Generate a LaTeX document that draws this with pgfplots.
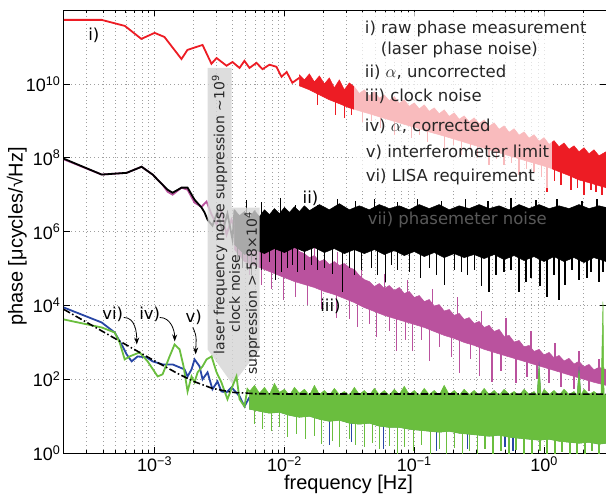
\documentclass[border=0pt]{standalone}
\usepackage{pgfplots}
\pgfplotsset{compat=1.18}
\usepackage{fontspec}
\setmainfont{Liberation Sans}
\newfontfamily\annot{DejaVu Sans}
\usetikzlibrary{arrows.meta}

\definecolor{cred}{RGB}{237,28,36}
\definecolor{cmag}{RGB}{186,82,158}
\definecolor{cblue}{RGB}{40,70,165}
\definecolor{cgreen}{RGB}{106,190,62}
\definecolor{cgray}{RGB}{212,212,212}

\begin{document}
\begin{tikzpicture}
\begin{axis}[
  scale only axis, width=543pt, height=444pt,
  xmode=log, ymode=log,
  xmin=2e-4, xmax=3, ymin=1, ymax=1e12,
  xtick={1e-3,1e-2,1e-1,1},
  xticklabels={10\textsuperscript{−3},10\textsuperscript{−2},10\textsuperscript{−1},10\textsuperscript{0}},
  minor xtick={3e-4,4e-4,5e-4,6e-4,7e-4,8e-4,9e-4,2e-3,3e-3,4e-3,5e-3,6e-3,7e-3,8e-3,9e-3,
    2e-2,3e-2,4e-2,5e-2,6e-2,7e-2,8e-2,9e-2,2e-1,3e-1,4e-1,5e-1,6e-1,7e-1,8e-1,9e-1,2},
  ytick={1,1e2,1e4,1e6,1e8,1e10},
  yticklabels={10\textsuperscript{0},10\textsuperscript{2},10\textsuperscript{4},10\textsuperscript{6},10\textsuperscript{8},10\textsuperscript{10}},
  yminorticks=false,
  xmajorgrids, xminorgrids, ymajorgrids,
  major grid style={gray!75, line width=0.6pt, dash pattern=on 0.8pt off 3pt},
  minor grid style={gray!75, line width=0.6pt, dash pattern=on 0.8pt off 3pt},
  tick align=inside, major tick length=6pt, minor tick length=3.5pt,
  tick style={black, line width=0.7pt},
  axis line style={line width=0.9pt},
  tick label style={font=\fontsize{18}{20}\selectfont},
  label style={font=\fontsize{20}{22}\selectfont},
  xlabel={frequency [Hz]},
  ylabel={phase [μcycles/√Hz]},
  xlabel style={at={(axis description cs:0.525,0)}, yshift=-31pt, anchor=center},
  ylabel style={at={(axis description cs:-0.087,0.489)}, anchor=center},
  unbounded coords=jump,
]

% iii) clock noise
\addplot[cmag, line width=1.8pt] coordinates {
(2e-4,9.0e7) (3.91e-4,3.5e7) (6.09e-4,3.9e7) (7.94e-4,5.7e7) (9.65e-4,3.5e7)
(1.152e-3,1.86e7) (1.259e-3,1.2e7) (1.375e-3,1.0e7) (1.613e-3,1.55e7) (1.794e-3,1.36e7)
(2.031e-3,6.1e6) (2.298e-3,4.7e6) (2.512e-3,6.5e6) (2.745e-3,2.9e6) (3.0e-3,1.55e6)
(3.27e-3,3.5e6) (3.58e-3,8.3e5) (3.91e-3,2.1e6) (4.125e-3,1.28e6)
};
\addplot[cmag, fill=cmag, line width=0.5pt] coordinates {
(4.125e-3,1.28e6) (4.506e-3,1.0e6) (4.924e-3,1.55e6) (5.380e-3,8.3e5) (5.878e-3,1.28e6)
(6.422e-3,6.88e5) (7.017e-3,1.13e6) (7.666e-3,6.08e5) (8.376e-3,7.8e5) (9.152e-3,4.74e5)
(1e-2,6.08e5) (1.093e-2,3.7e5) (1.194e-2,4.18e5) (1.304e-2,2.88e5) (1.425e-2,2.54e5)
(1.557e-2,1.98e5) (1.701e-2,2.25e5) (1.859e-2,1.55e5) (2.031e-2,1.75e5) (2.219e-2,1.28e5)
(2.424e-2,1.55e5) (2.649e-2,1.21e5) (2.894e-2,1.37e5) (3.162e-2,1.06e5) (3.455e-2,9.4e4)
(3.775e-2,6.5e4) (4.125e-2,5.0e4) (4.506e-2,4.45e4) (4.924e-2,3.26e4) (5.380e-2,3.93e4)
(5.878e-2,2.88e4) (6.422e-2,3.47e4) (7.017e-2,2.54e4) (7.666e-2,3.07e4) (8.376e-2,2.11e4)
(9.152e-2,2.39e4) (0.1,1.65e4) (0.1093,1.86e4) (0.1194,1.28e4) (0.1304,1.45e4)
(0.1425,9.7e3) (0.1557,1.06e4) (0.1701,7.1e3) (0.1859,7.8e3) (0.2031,5.4e3)
(0.2219,6.1e3) (0.2424,4.2e3) (0.2649,4.7e3) (0.2894,3.26e3) (0.3162,3.7e3)
(0.3455,2.54e3) (0.3775,2.9e3) (0.4125,1.98e3) (0.4506,2.25e3) (0.4924,1.45e3)
(0.5380,1.55e3) (0.5878,1.03e3) (0.6422,1.13e3) (0.7017,755) (0.7666,830)
(0.8376,571) (0.9152,650) (1.0,459) (1.093,537) (1.194,381) (1.304,445)
(1.425,316) (1.557,370) (1.701,262) (1.859,307) (2.031,218) (2.219,254)
(2.424,181) (2.649,211) (3.0,186)
(3.0,69) (2.424,83) (2.031,100) (1.701,120) (1.425,145) (1.194,175) (1.0,211)
(0.8376,254) (0.7017,307) (0.5878,370) (0.4924,445) (0.4125,537) (0.3455,650)
(0.2894,830) (0.2424,1.0e3) (0.2031,1.28e3) (0.1701,1.55e3) (0.1425,1.98e3)
(0.1194,2.54e3) (0.1,3.07e3) (8.376e-2,3.7e3) (7.017e-2,4.45e3) (5.878e-2,5.4e3)
(4.924e-2,6.9e3) (4.125e-2,8.8e3) (3.455e-2,1.2e4) (2.894e-2,1.55e4) (2.424e-2,1.98e4)
(2.031e-2,2.39e4) (1.701e-2,3.07e4) (1.425e-2,3.7e4) (1.194e-2,4.45e4) (1e-2,5.7e4)
(8.376e-3,7.3e4) (7.017e-3,9.4e4) (5.878e-3,1.21e5) (4.924e-3,1.55e5) (4.125e-3,3.26e5)
} -- cycle;
\addplot[cmag, line width=1.3pt] coordinates {
(5.380e-3,2.25e5) (5.380e-3,6.9e4) (5.380e-3,nan)
(6.66e-3,1.75e5) (6.66e-3,3.7e4) (6.66e-3,nan)
(7.943e-3,1.28e5) (7.943e-3,2.71e4) (7.943e-3,nan)
(9.82e-3,9.4e4) (9.82e-3,1.45e4) (9.82e-3,nan)
(1.215e-2,7.3e4) (1.215e-2,1.65e4) (1.215e-2,nan)
(1.503e-2,5.7e4) (1.503e-2,1.06e4) (1.503e-2,nan)
(1.926e-2,4.2e4) (1.926e-2,7.8e3) (1.926e-2,nan)
(2.512e-2,3.07e4) (2.512e-2,4.7e3) (2.512e-2,nan)
(3.162e-2,2.25e4) (3.162e-2,4.2e3) (3.162e-2,nan)
(3.643e-2,1.86e4) (3.643e-2,2.54e3) (3.643e-2,nan)
(4.506e-2,1.28e4) (4.506e-2,3.07e3) (4.506e-2,nan)
(5.10e-2,1.13e4) (5.10e-2,1.37e3) (5.10e-2,nan)
(6.422e-2,8.3e3) (6.422e-2,1.98e3) (6.422e-2,nan)
(7.27e-2,6.9e3) (7.27e-2,571) (7.27e-2,nan)
(8.53e-2,6.1e3) (8.53e-2,1.2e3) (8.53e-2,nan)
(9.65e-2,5.4e3) (9.65e-2,571) (9.65e-2,nan)
(0.1132,4.45e3) (0.1132,1.2e3) (0.1132,nan)
(0.1304,3.7e3) (0.1304,307) (0.1304,nan)
(0.1557,2.9e3) (0.1557,730) (0.1557,nan)
(0.1926,2.25e3) (0.1926,393) (0.1926,nan)
(0.2219,1.98e3) (0.2219,145) (0.2219,nan)
(0.2697,1.45e3) (0.2697,347) (0.2697,nan)
(0.3162,1.2e3) (0.3162,120) (0.3162,nan)
(0.3981,940) (0.3981,83) (0.3981,nan)
(0.4669,780) (0.4669,165) (0.4669,nan)
(0.6091,571) (0.6091,78) (0.6091,nan)
(0.7399,474) (0.7399,113) (0.7399,nan)
(0.8836,393) (0.8836,100) (0.8836,nan)
(1.093,326) (1.093,78) (1.093,nan)
(1.351,254) (1.351,61) (1.351,nan)
(1.701,198) (1.701,54) (1.701,nan)
(2.219,155) (2.219,47) (2.219,nan)
(7.40e-3,1.45e6) (7.40e-3,4.5e5) (7.40e-3,nan)
(1.132e-2,6.88e5) (1.132e-2,2.25e5) (1.132e-2,nan)
(1.701e-2,4.5e5) (1.701e-2,1.21e5) (1.701e-2,nan)
(2.557e-2,2.88e5) (2.557e-2,8.3e4) (2.557e-2,nan)
(3.91e-2,1.21e5) (3.91e-2,3.47e4) (3.91e-2,nan)
(5.878e-2,7.3e4) (5.878e-2,1.86e4) (5.878e-2,nan)
(8.836e-2,5.0e4) (8.836e-2,1.28e4) (8.836e-2,nan)
(0.1376,2.71e4) (0.1376,6.5e3) (0.1376,nan)
(0.2142,1.65e4) (0.2142,3.7e3) (0.2142,nan)
(0.3277,6.9e3) (0.3277,1.75e3) (0.3277,nan)
(0.5102,4.7e3) (0.5102,940) (0.5102,nan)
(0.7943,1.98e3) (0.7943,445) (0.7943,nan)
(1.215,940) (1.215,271) (1.215,nan)
(1.859,571) (1.859,175) (1.859,nan)
(2.649,347) (2.649,113) (2.649,nan)
};

% ii) alpha, uncorrected
\addplot[black, line width=1.8pt] coordinates {
(2e-4,9.4e7) (3.91e-4,3.5e7) (6.09e-4,3.9e7) (7.94e-4,5.7e7) (9.65e-4,3.5e7)
(1.152e-3,1.86e7) (1.259e-3,1.36e7) (1.375e-3,1.13e7) (1.613e-3,1.55e7) (1.794e-3,1.55e7)
(2.031e-3,7.3e6) (2.298e-3,4.5e6) (2.424e-3,3.3e6) (2.557e-3,2.1e6) (2.79e-3,1.45e6)
(3.05e-3,3.5e6) (3.33e-3,1.0e6) (3.64e-3,3.06e6) (3.98e-3,6.1e5) (4.125e-3,3.9e6)
};
\addplot[black, fill=black, line width=0.5pt] coordinates {
(4.125e-3,3.9e6) (4.506e-3,2.7e6) (4.924e-3,3.5e6) (5.380e-3,2.39e6) (5.878e-3,3.7e6)
(6.422e-3,2.54e6) (7.017e-3,3.9e6) (7.666e-3,2.88e6) (8.376e-3,4.2e6) (9.152e-3,3.06e6)
(1e-2,4.5e6) (1.093e-2,3.3e6) (1.194e-2,4.7e6) (1.304e-2,3.5e6) (1.425e-2,5.0e6)
(1.557e-2,3.7e6) (1.859e-2,5.4e6) (2.219e-2,3.9e6) (2.649e-2,5.7e6) (3.162e-2,3.9e6)
(3.775e-2,5.0e6) (4.506e-2,3.9e6) (5.380e-2,5.4e6) (6.422e-2,4.2e6) (7.666e-2,5.0e6)
(9.152e-2,3.9e6) (0.1093,5.4e6) (0.1304,4.2e6) (0.1557,5.4e6) (0.1859,3.9e6)
(0.2219,5.0e6) (0.2649,4.2e6) (0.3162,5.4e6) (0.3775,4.2e6) (0.4506,5.0e6)
(0.5380,3.9e6) (0.6422,5.4e6) (0.7666,4.2e6) (0.9152,5.4e6) (1.093,4.2e6)
(1.304,5.0e6) (1.557,4.2e6) (1.859,5.4e6) (2.219,4.2e6) (2.649,5.0e6) (3.0,4.5e6)
(3.0,1.55e5) (2.424,1.98e5) (2.031,1.45e5) (1.701,1.98e5) (1.425,1.55e5) (1.194,2.11e5)
(1.0,1.55e5) (0.8376,2.11e5) (0.7017,1.65e5) (0.5878,2.25e5) (0.4924,1.75e5)
(0.4125,2.4e5) (0.3455,1.86e5) (0.2894,2.4e5) (0.2424,1.98e5) (0.2031,2.54e5)
(0.1701,1.98e5) (0.1425,2.71e5) (0.1194,2.11e5) (0.1,2.88e5) (8.376e-2,2.25e5)
(7.017e-2,3.07e5) (5.878e-2,2.4e5) (4.924e-2,3.26e5) (4.125e-2,2.54e5) (3.455e-2,3.26e5)
(2.894e-2,2.54e5) (2.424e-2,3.47e5) (2.031e-2,2.71e5) (1.701e-2,3.7e5) (1.425e-2,2.88e5)
(1.194e-2,3.7e5) (1e-2,2.71e5) (8.376e-3,3.47e5) (7.017e-3,2.54e5) (5.878e-3,3.26e5)
(4.924e-3,2.4e5) (4.125e-3,4.5e5)
} -- cycle;
\addplot[black, line width=1.3pt] coordinates {
(4.75e-3,5e5) (4.75e-3,1.06e5) (4.75e-3,nan)
(5.57e-3,5e5) (5.57e-3,6.9e4) (5.57e-3,nan)
(6.66e-3,5e5) (6.66e-3,9.4e4) (6.66e-3,nan)
(8.53e-3,5e5) (8.53e-3,5.0e4) (8.53e-3,nan)
(1.054e-2,5e5) (1.054e-2,1.06e5) (1.054e-2,nan)
(1.259e-2,5e5) (1.259e-2,8.3e4) (1.259e-2,nan)
(1.794e-2,5e5) (1.794e-2,9.4e4) (1.794e-2,nan)
(2.794e-2,5e5) (2.794e-2,2.39e4) (2.794e-2,nan)
(3.455e-2,5e5) (3.455e-2,6.9e4) (3.455e-2,nan)
(4.67e-2,5e5) (4.67e-2,1.06e5) (4.67e-2,nan)
(5.98e-2,5e5) (5.98e-2,4.45e4) (5.98e-2,nan)
(7.40e-2,5e5) (7.40e-2,9.4e4) (7.40e-2,nan)
(0.1112,5e5) (0.1112,5.7e4) (0.1112,nan)
(0.1701,5e5) (0.1701,3.7e4) (0.1701,nan)
(0.2031,5e5) (0.2031,9.4e4) (0.2031,nan)
(0.2557,5e5) (0.2557,6.9e4) (0.2557,nan)
(0.3277,5e5) (0.3277,3.47e4) (0.3277,nan)
(0.3775,5e5) (0.3775,2.39e4) (0.3775,nan)
(0.4924,5e5) (0.4924,8.3e4) (0.4924,nan)
(0.6422,5e5) (0.6422,2.39e4) (0.6422,nan)
(0.7943,5e5) (0.7943,5.7e4) (0.7943,nan)
(0.9316,5e5) (0.9316,3.47e4) (0.9316,nan)
(1.055,5e5) (1.055,1.75e4) (1.055,nan)
(1.304,5e5) (1.304,1.45e4) (1.304,nan)
(1.450,5e5) (1.450,3.7e4) (1.450,nan)
(1.859,5e5) (1.859,5.0e4) (1.859,nan)
(2.299,5e5) (2.299,8.3e4) (2.299,nan)
(2.649,5e5) (2.649,4.45e4) (2.649,nan)
(4.35e-3,5e5) (4.35e-3,1.55e5) (4.35e-3,nan)
(5.19e-3,5e5) (5.19e-3,9.4e4) (5.19e-3,nan)
(6.09e-3,5e5) (6.09e-3,1.21e5) (6.09e-3,nan)
(7.666e-3,5e5) (7.666e-3,1.55e5) (7.666e-3,nan)
(9.48e-3,5e5) (9.48e-3,8.3e4) (9.48e-3,nan)
(1.152e-2,5e5) (1.152e-2,1.21e5) (1.152e-2,nan)
(1.425e-2,5e5) (1.425e-2,9.4e4) (1.425e-2,nan)
(1.613e-2,5e5) (1.613e-2,1.28e5) (1.613e-2,nan)
(2.031e-2,5e5) (2.031e-2,1.06e5) (2.031e-2,nan)
(2.34e-2,5e5) (2.34e-2,7.3e4) (2.34e-2,nan)
(3.162e-2,5e5) (3.162e-2,1.06e5) (3.162e-2,nan)
(3.91e-2,5e5) (3.91e-2,9.4e4) (3.91e-2,nan)
(5.19e-2,5e5) (5.19e-2,6.9e4) (5.19e-2,nan)
(6.655e-2,5e5) (6.655e-2,1.21e5) (6.655e-2,nan)
(9.152e-2,5e5) (9.152e-2,8.3e4) (9.152e-2,nan)
(0.1304,5e5) (0.1304,1.06e5) (0.1304,nan)
(0.1476,5e5) (0.1476,6.5e4) (0.1476,nan)
(0.2299,5e5) (0.2299,8.3e4) (0.2299,nan)
(0.2894,5e5) (0.2894,9.4e4) (0.2894,nan)
(0.4274,5e5) (0.4274,6.5e4) (0.4274,nan)
(0.5574,5e5) (0.5574,9.4e4) (0.5574,nan)
(0.7268,5e5) (0.7268,4.45e4) (0.7268,nan)
(1.194,5e5) (1.194,6.5e4) (1.194,nan)
(1.642,5e5) (1.642,9.4e4) (1.642,nan)
(2.141,5e5) (2.141,5.7e4) (2.141,nan)
(2.843,5e5) (2.843,8.3e4) (2.843,nan)
(5.10e-3,2e6) (5.10e-3,7.3e6) (5.10e-3,nan)
(6.66e-3,2e6) (6.66e-3,6.5e6) (6.66e-3,nan)
(9.316e-3,2e6) (9.316e-3,8.3e6) (9.316e-3,nan)
(1.215e-2,2e6) (1.215e-2,5.4e6) (1.215e-2,nan)
(1.794e-2,2e6) (1.794e-2,5.4e6) (1.794e-2,nan)
(2.557e-2,2e6) (2.557e-2,7.8e6) (2.557e-2,nan)
(3.517e-2,2e6) (3.517e-2,6.9e6) (3.517e-2,nan)
(4.924e-2,2e6) (4.924e-2,7.8e6) (4.924e-2,nan)
(7.40e-2,2e6) (7.40e-2,6.5e6) (7.40e-2,nan)
(0.1055,2e6) (0.1055,7.8e6) (0.1055,nan)
(0.1614,2e6) (0.1614,6.9e6) (0.1614,nan)
(0.2468,2e6) (0.2468,7.8e6) (0.2468,nan)
(0.3709,2e6) (0.3709,6.9e6) (0.3709,nan)
(0.5574,2e6) (0.5574,8.3e6) (0.5574,nan)
(0.8680,2e6) (0.8680,7.3e6) (0.8680,nan)
(1.259,2e6) (1.259,7.8e6) (1.259,nan)
(1.960,2e6) (1.960,6.9e6) (1.960,nan)
(2.557,2e6) (2.557,7.8e6) (2.557,nan)
};

% vii) label, mostly hidden in the phasemeter trace
\node[anchor=west, text=white, opacity=0.35, font=\annot\fontsize{16.5}{19}\selectfont]
  at (rel axis cs:0.5543,0.5270) {vii) phasemeter noise};

% grey suppression arrow
\fill[cgray, fill opacity=0.8] (rel axis cs:0.2652,0.8694) -- (rel axis cs:0.3094,0.8694)
  -- (rel axis cs:0.3094,0.5541) -- (rel axis cs:0.3610,0.5541) -- (rel axis cs:0.3610,0.2342)
  -- (rel axis cs:0.3112,0.1554) -- (rel axis cs:0.2652,0.2342) -- cycle;

% i) raw phase measurement
\addplot[cred, line width=1.8pt] coordinates {
(2e-4,5.4e11) (3.9e-4,5.4e11) (5.9e-4,3.7e11) (7.9e-4,1.65e11) (1e-3,2.4e11)
(1.19e-3,1.86e11) (1.61e-3,4.7e10) (1.79e-3,8.3e10) (2.34e-3,1.13e11) (2.74e-3,3.5e10)
(3.0e-3,5.0e10) (3.58e-3,3.1e10) (3.98e-3,3.9e10) (4.51e-3,2.7e10) (4.92e-3,4.2e10)
(5.38e-3,2.7e10) (6.09e-3,3.7e10) (6.78e-3,2.5e10) (7.67e-3,3.3e10) (8.68e-3,2.9e10)
(9.5e-3,1.55e10) (1.04e-2,2.1e10) (1.15e-2,1.07e10) (1.30e-2,1.45e10)
};
\addplot[cred, fill=cred, line width=0.5pt] coordinates {
(1.304e-2,1.75e10) (1.425e-2,1.28e10) (1.557e-2,1.86e10) (1.701e-2,1.13e10) (1.859e-2,1.64e10)
(2.031e-2,1.0e10) (2.219e-2,1.45e10) (2.424e-2,7.8e9) (2.649e-2,1.28e10) (2.894e-2,6.9e9)
(3.162e-2,1.06e10) (3.455e-2,8.3e9) (3.775e-2,5.5e9) (4.125e-2,6.9e9) (4.506e-2,4.7e9)
(4.924e-2,6.1e9) (5.380e-2,4.1e9) (5.878e-2,5.0e9) (6.422e-2,3.5e9) (7.017e-2,4.5e9)
(7.666e-2,2.97e9) (8.376e-2,3.7e9) (9.152e-2,2.47e9) (0.1,3.06e9) (0.1093,2.11e9)
(0.1194,2.7e9) (0.1304,1.81e9) (0.1425,2.24e9) (0.1557,1.55e9) (0.1701,1.98e9)
(0.1859,1.32e9) (0.2031,1.64e9) (0.2219,1.1e9) (0.2424,1.36e9) (0.2649,9.4e8)
(0.2894,1.2e9) (0.3162,8.3e8) (0.3455,1.06e9) (0.3775,7.1e8) (0.4125,8.8e8)
(0.4506,5.9e8) (0.4924,7.3e8) (0.5380,4.9e8) (0.5878,6.1e8) (0.6422,4.1e8)
(0.7017,5.0e8) (0.7666,3.4e8) (0.8376,4.2e8) (0.9152,2.8e8) (1.0,3.5e8)
(1.093,2.3e8) (1.194,2.9e8) (1.304,1.98e8) (1.425,2.5e8) (1.557,1.7e8)
(1.701,2.1e8) (1.859,1.45e8) (2.031,1.86e8) (2.219,1.28e8) (2.424,1.64e8)
(2.649,1.13e8) (3.0,1.45e8)
(3.0,1.55e7) (2.649,1.75e7) (2.219,2.11e7) (1.859,2.5e7) (1.557,3.3e7) (1.304,4.2e7)
(1.093,5.4e7) (0.9152,6.5e7) (0.7666,7.8e7) (0.6422,9.4e7) (0.5380,1.13e8) (0.4506,1.36e8)
(0.3775,1.64e8) (0.3162,1.98e8) (0.2649,2.39e8) (0.2219,2.9e8) (0.1859,3.5e8)
(0.1557,4.2e8) (0.1304,5.0e8) (0.1093,6.1e8) (9.152e-2,7.3e8) (7.666e-2,8.8e8)
(6.422e-2,1.06e9) (5.380e-2,1.28e9) (4.506e-2,1.55e9) (3.775e-2,1.86e9) (3.162e-2,2.24e9)
(2.649e-2,2.9e9) (2.219e-2,3.7e9) (1.859e-2,5.05e9) (1.557e-2,6.9e9) (1.304e-2,8.83e9)
} -- cycle;
\addplot[cred, line width=1.3pt] coordinates {
(1.794e-2,7.8e9) (1.794e-2,2.7e9) (1.794e-2,nan)
(2.468e-2,4.7e9) (2.468e-2,1.45e9) (2.468e-2,nan)
(2.894e-2,3.7e9) (2.894e-2,1.2e9) (2.894e-2,nan)
(3.3e-2,3.0e9) (3.3e-2,1.4e9) (3.3e-2,nan)
(3.981e-2,2.54e9) (3.981e-2,9.4e8) (3.981e-2,nan)
(4.7e-2,2.2e9) (4.7e-2,1.0e9) (4.7e-2,nan)
(5.476e-2,1.86e9) (5.476e-2,6.5e8) (5.476e-2,nan)
(7.017e-2,1.45e9) (7.017e-2,4.2e8) (7.017e-2,nan)
(9.48e-2,1.0e9) (9.48e-2,3.5e8) (9.48e-2,nan)
(0.11,8.5e8) (0.11,4.0e8) (0.11,nan)
(0.1259,7.8e8) (0.1259,2.7e8) (0.1259,nan)
(0.1701,5.7e8) (0.1701,1.64e8) (0.1701,nan)
(0.2,4.5e8) (0.2,2.2e8) (0.2,nan)
(0.2299,4.2e8) (0.2299,1.2e8) (0.2299,nan)
(0.27,3.5e8) (0.27,1.6e8) (0.27,nan)
(0.3052,3.06e8) (0.3052,1.0e8) (0.3052,nan)
(0.3775,2.39e8) (0.3775,6.5e7) (0.3775,nan)
(0.43,2.1e8) (0.43,9e7) (0.43,nan)
(0.4924,1.86e8) (0.4924,6.5e7) (0.4924,nan)
(0.56,1.6e8) (0.56,7e7) (0.56,nan)
(0.6422,1.36e8) (0.6422,3.5e7) (0.6422,nan)
(0.73,1.2e8) (0.73,5e7) (0.73,nan)
(0.8376,1.06e8) (0.8376,4.2e7) (0.8376,nan)
(0.95,9e7) (0.95,3e7) (0.95,nan)
(1.055,8.3e7) (1.055,1.2e7) (1.055,nan)
(1.2,7e7) (1.2,2.4e7) (1.2,nan)
(1.351,6.1e7) (1.351,1.86e7) (1.351,nan)
(1.614,4.7e7) (1.614,1.36e7) (1.614,nan)
(1.8,4e7) (1.8,1.5e7) (1.8,nan)
(2.031,3.5e7) (2.031,1.0e7) (2.031,nan)
(2.3,3e7) (2.3,1.3e7) (2.3,nan)
(2.512,2.7e7) (2.512,1.2e7) (2.512,nan)
(2.8,2.5e7) (2.8,1.0e7) (2.8,nan)
};

% iv) alpha, corrected
\addplot[cblue, line width=1.8pt] coordinates {
(2e-4,8.8e3) (3.91e-4,3.47e3) (4.92e-4,1.86e3) (5.67e-4,780) (6.09e-4,474) (6.65e-4,307)
(7.40e-4,418) (8.68e-4,393) (9.65e-4,307) (1.152e-3,254) (1.375e-3,254) (1.70e-3,186)
(1.794e-3,120) (1.925e-3,186) (2.031e-3,347) (2.219e-3,225) (2.34e-3,100) (2.557e-3,155)
(2.79e-3,54) (3.05e-3,88) (3.27e-3,47) (3.58e-3,44.5) (3.91e-3,61) (4.506e-3,35)
(4.924e-3,18.6) (5.380e-3,33)
};
\addplot[cblue, fill=cblue, draw=none] coordinates {
(5.380e-3,37) (7.017e-3,30.6) (9.152e-3,37) (1.194e-2,30.6) (1.557e-2,37) (2.031e-2,30.6)
(2.649e-2,37) (3.455e-2,30.6) (4.506e-2,37) (5.878e-2,30.6) (7.666e-2,37) (0.1,30.6)
(0.1304,37) (0.1701,30.6) (0.2219,37) (0.2894,30.6) (0.3775,37) (0.4924,30.6)
(0.6422,37) (0.8376,30.6) (0.8834,37) (0.9152,307) (0.948,37) (1.093,30.6)
(1.425,37) (1.732,30.6) (1.795,37) (1.859,225) (1.926,37) (2.424,30.6) (3.0,37)
(3.0,1.86) (2.649,1.75) (2.219,1.98) (1.859,1.86) (1.557,1.98) (1.304,2.11) (1.093,2.39)
(0.9152,2.25) (0.7666,2.39) (0.6422,2.54) (0.5380,2.71) (0.4506,3.07) (0.3775,2.88)
(0.3162,3.07) (0.2649,3.26) (0.2219,3.47) (0.1859,3.93) (0.1557,3.7) (0.1304,3.93)
(0.1093,4.18) (9.152e-2,4.45) (7.666e-2,5.0) (6.422e-2,5.0) (5.380e-2,5.4) (4.506e-2,6.5)
(3.775e-2,6.1) (3.162e-2,6.5) (2.649e-2,7.8) (2.219e-2,7.3) (1.859e-2,8.3) (1.557e-2,10)
(1.304e-2,9.4) (1.093e-2,10.6) (9.152e-3,12.8) (7.666e-3,12.1) (6.422e-3,13.7) (5.380e-3,15.5)
} -- cycle;
\addplot[cblue, line width=1.3pt] coordinates {
(2.219e-2,25) (2.219e-2,1.65) (2.219e-2,nan)
(3.276e-2,25) (3.276e-2,1.98) (3.276e-2,nan)
(5.774e-2,25) (5.774e-2,1.28) (5.774e-2,nan)
(0.1476,25) (0.1476,1.13) (0.1476,nan)
(0.2557,25) (0.2557,1.28) (0.2557,nan)
(0.5012,25) (0.5012,1.45) (0.5012,nan)
(0.5774,25) (0.5774,1.13) (0.5774,nan)
};

% v) interferometer limit
\addplot[cgreen, line width=1.8pt] coordinates {
(2e-4,4.18e3) (3.91e-4,2.54e3) (4.92e-4,1.86e3) (5.38e-4,1.0e3) (5.88e-4,347) (6.42e-4,418)
(7.67e-4,537) (8.83e-4,307) (1.055e-3,120) (1.152e-3,137) (1.304e-3,418) (1.425e-3,883)
(1.557e-3,650) (1.671e-3,225) (1.794e-3,47) (1.925e-3,120) (2.031e-3,83) (2.143e-3,155)
(2.34e-3,225) (2.512e-3,347) (2.745e-3,418) (3.0e-3,155) (3.27e-3,83) (3.64e-3,29)
(3.98e-3,65) (4.27e-3,120) (4.51e-3,29) (4.92e-3,18.6) (5.19e-3,54) (5.380e-3,47)
};
\addplot[cgreen, fill=cgreen, line width=0.5pt] coordinates {
(5.380e-3,47) (5.878e-3,69) (6.422e-3,42) (7.017e-3,61) (7.666e-3,39) (8.376e-3,78)
(9.152e-3,44.5) (1e-2,54) (1.093e-2,37) (1.194e-2,61) (1.304e-2,42) (1.425e-2,54)
(1.557e-2,37) (1.701e-2,69) (1.859e-2,39) (2.031e-2,50) (2.219e-2,37) (2.424e-2,57)
(2.649e-2,39) (2.894e-2,47) (3.162e-2,37) (3.455e-2,61) (3.775e-2,39) (4.125e-2,50)
(4.506e-2,37) (4.924e-2,57) (5.380e-2,39) (5.878e-2,50) (6.422e-2,37) (7.017e-2,54)
(7.666e-2,39) (8.376e-2,65) (9.152e-2,39) (0.1,50) (0.1093,37) (0.1194,57)
(0.1304,39) (0.1425,50) (0.1557,37) (0.1701,69) (0.1859,39) (0.2031,50)
(0.2219,37) (0.2424,54) (0.2649,39) (0.2894,50) (0.3162,37) (0.3455,57)
(0.3775,39) (0.4125,50) (0.4506,37) (0.4924,54) (0.5380,39) (0.5878,47)
(0.6422,37) (0.7017,54) (0.7666,39) (0.8376,47) (0.8834,37) (0.9152,239)
(0.948,37) (1.0,54) (1.093,39) (1.194,50) (1.304,37) (1.425,54) (1.557,39)
(1.701,47) (1.795,37) (1.859,175) (1.926,37) (2.031,54) (2.219,39) (2.424,47)
(2.649,37) (2.745,42) (2.843,1.28e4) (2.9,37) (3.0,40)
(3.0,1.86) (2.649,1.75) (2.219,1.98) (1.859,1.86) (1.557,1.98) (1.304,2.11) (1.093,2.39)
(0.9152,2.25) (0.7666,2.39) (0.6422,2.54) (0.5380,2.71) (0.4506,3.07) (0.3775,2.88)
(0.3162,3.07) (0.2649,3.26) (0.2219,3.47) (0.1859,3.93) (0.1557,3.7) (0.1304,3.93)
(0.1093,4.18) (9.152e-2,4.45) (7.666e-2,5.0) (6.422e-2,5.0) (5.380e-2,5.4) (4.506e-2,6.5)
(3.775e-2,6.1) (3.162e-2,6.5) (2.649e-2,7.8) (2.219e-2,7.3) (1.859e-2,8.3) (1.557e-2,10)
(1.304e-2,9.4) (1.093e-2,10.6) (9.152e-3,12.8) (7.666e-3,12.1) (6.422e-3,13.7) (5.380e-3,15.5)
} -- cycle;
\addplot[cgreen, line width=1.3pt] coordinates {
(5.878e-3,25) (5.878e-3,6.1) (5.878e-3,nan)
(6.77e-3,25) (6.77e-3,4.45) (6.77e-3,nan)
(7.943e-3,25) (7.943e-3,3.93) (7.943e-3,nan)
(9.152e-3,25) (9.152e-3,5.0) (9.152e-3,nan)
(1.054e-2,25) (1.054e-2,2.71) (1.054e-2,nan)
(1.237e-2,25) (1.237e-2,3.26) (1.237e-2,nan)
(1.451e-2,25) (1.451e-2,2.39) (1.451e-2,nan)
(1.701e-2,25) (1.701e-2,2.88) (1.701e-2,nan)
(1.926e-2,25) (1.926e-2,1.75) (1.926e-2,nan)
(2.34e-2,25) (2.34e-2,2.11) (2.34e-2,nan)
(2.649e-2,25) (2.649e-2,1.45) (2.649e-2,nan)
(3.162e-2,25) (3.162e-2,2.39) (3.162e-2,nan)
(3.517e-2,25) (3.517e-2,1.65) (3.517e-2,nan)
(4.125e-2,25) (4.125e-2,1.45) (4.125e-2,nan)
(4.753e-2,25) (4.753e-2,1.86) (4.753e-2,nan)
(5.380e-2,25) (5.380e-2,1.28) (5.380e-2,nan)
(6.422e-2,25) (6.422e-2,1.55) (6.422e-2,nan)
(7.40e-2,25) (7.40e-2,0.95) (7.40e-2,nan)
(8.376e-2,25) (8.376e-2,1.45) (8.376e-2,nan)
(9.82e-2,25) (9.82e-2,1.13) (9.82e-2,nan)
(0.1132,25) (0.1132,1.65) (0.1132,nan)
(0.1328,25) (0.1328,0.95) (0.1328,nan)
(0.1557,25) (0.1557,1.28) (0.1557,nan)
(0.1763,25) (0.1763,0.95) (0.1763,nan)
(0.2031,25) (0.2031,1.365) (0.2031,nan)
(0.2340,25) (0.2340,0.95) (0.2340,nan)
(0.2649,25) (0.2649,1.13) (0.2649,nan)
(0.3052,25) (0.3052,0.95) (0.3052,nan)
(0.3517,25) (0.3517,1.28) (0.3517,nan)
(0.4053,25) (0.4053,0.95) (0.4053,nan)
(0.4669,25) (0.4669,1.13) (0.4669,nan)
(0.5380,25) (0.5380,0.95) (0.5380,nan)
(0.6091,25) (0.6091,1.205) (0.6091,nan)
(0.7017,25) (0.7017,0.95) (0.7017,nan)
(0.8083,25) (0.8083,0.95) (0.8083,nan)
(0.9316,25) (0.9316,1.13) (0.9316,nan)
(1.055,25) (1.055,0.95) (1.055,nan)
(1.215,25) (1.215,0.95) (1.215,nan)
(1.376,25) (1.376,1.064) (1.376,nan)
(1.585,25) (1.585,0.95) (1.585,nan)
(1.794,25) (1.794,0.95) (1.794,nan)
(2.067,25) (2.067,0.95) (2.067,nan)
(2.34,25) (2.34,1.13) (2.34,nan)
(2.649,25) (2.649,0.95) (2.649,nan)
};

% vi) LISA requirement
\addplot[black, line width=1.6pt, dash pattern=on 7pt off 2.5pt on 1.5pt off 2.5pt] coordinates {
(2e-4,7840) (3e-4,3485) (4e-4,1960) (5e-4,1255) (7e-4,641) (1e-3,316) (1.5e-3,145)
(2e-3,88) (2.8e-3,56.6) (4e-3,44.5) (6e-3,40.9) (1e-2,40.1) (3,40)
};

% legend box
\fill[white, fill opacity=0.7] (rel axis cs:0.5359,0.5991) rectangle (rel axis cs:0.9006,0.9955);
\begin{scope}[every node/.style={anchor=west, text=black!85, font=\annot\fontsize{16.5}{19}\selectfont}]
\node at (rel axis cs:0.5488,0.9572) {i) raw phase measurement};
\node at (rel axis cs:0.5783,0.9099) {(laser phase noise)};
\node at (rel axis cs:0.5488,0.8604) {ii) $\alpha$, uncorrected};
\node at (rel axis cs:0.5488,0.8041) {iii) clock noise};
\node at (rel axis cs:0.5488,0.7365) {iv) $\alpha$, corrected};
\node at (rel axis cs:0.5506,0.6779) {v) interferometer limit};
\node at (rel axis cs:0.5506,0.6239) {vi) LISA requirement};
\end{scope}

\begin{scope}[every node/.style={anchor=center, text=black, font=\annot\fontsize{16.5}{19}\selectfont}]
\node at (rel axis cs:0.0552,0.9437) {i)};
\node at (rel axis cs:0.4549,0.5760) {ii)};
\node at (rel axis cs:0.4917,0.3311) {iii)};
\node at (rel axis cs:0.0902,0.3131) {vi)};
\node at (rel axis cs:0.1584,0.3131) {iv)};
\node at (rel axis cs:0.2394,0.3063) {v)};
\end{scope}
\draw[black, line width=0.8pt, -{Stealth[length=7pt,width=5pt]}]
  (rel axis cs:0.1105,0.3063) to[out=0, in=90] (rel axis cs:0.1344,0.2455);
\draw[black, line width=0.8pt, -{Stealth[length=7pt,width=5pt]}]
  (rel axis cs:0.1768,0.3063) to[out=0, in=90] (rel axis cs:0.2044,0.2523);
\draw[black, line width=0.8pt, -{Stealth[length=7pt,width=5pt]}]
  (rel axis cs:0.2376,0.2838) to[out=-60, in=90] (rel axis cs:0.2431,0.2230);

\node[rotate=90, text=black!85, font=\annot\fontsize{14}{17}\selectfont]
  at (rel axis cs:0.2873,0.5383) {laser frequency noise suppression ∼10\textsuperscript{9}};
\node[rotate=90, align=center, text=black!85, font=\annot\fontsize{14}{17}\selectfont]
  at (rel axis cs:0.3333,0.3604) {clock noise\\suppression > 5.8×10\textsuperscript{4}};
\end{axis}
\pgfresetboundingbox
\path (current axis.south west) +(-64pt,-43pt) (current axis.north east) +(0pt,10pt);
\end{tikzpicture}
\end{document}
